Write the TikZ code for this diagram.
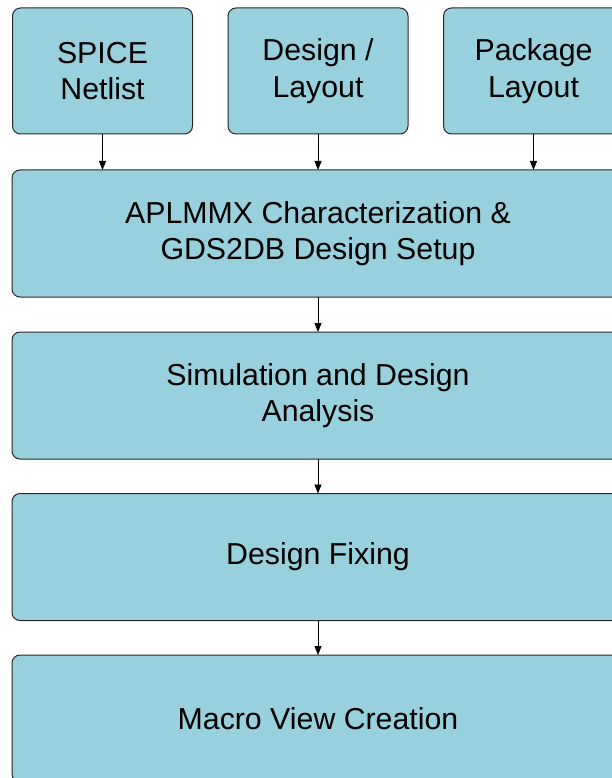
\documentclass[tikz,border=0pt]{standalone}
\usepackage{fontspec}
\setmainfont{Liberation Sans}
\usetikzlibrary{arrows.meta}
\definecolor{boxfill}{RGB}{153,208,221}
\definecolor{boxline}{RGB}{40,40,40}
\begin{document}
\begin{tikzpicture}[x=1pt,y=-1pt,
  box/.style={draw=boxline,fill=boxfill,line width=1pt,rounded corners=8pt,
    inner sep=0pt,outer sep=0pt,align=center,
    font=\fontsize{30.3}{36.5}\selectfont},
  small/.style={box,minimum width=180pt,minimum height=126pt},
  big/.style={box,minimum width=612pt,minimum height=127pt},
  conn/.style={line width=0.9pt,-{Triangle[length=9pt,width=7pt]}}]
\useasboundingbox (0,0) rectangle (611,778);
\node[small] (spice) at (102.5,71) {SPICE\\Netlist};
\node[small] (design) at (318,71) {Design /\\Layout};
\node[small] (pkg) at (533.5,71) {Package\\Layout};
\node[big] (aplmmx) at (318,233.5) {APLMMX Characterization \&\\GDS2DB Design Setup};
\node[big] (sim) at (318,395.5) {Simulation and Design\\Analysis};
\node[big] (fix) at (318,557) {Design Fixing};
\node[big] (macro) at (318,718.5) {Macro View Creation};
\draw[conn] (spice.south) -- (spice.south |- aplmmx.north);
\draw[conn] (design.south) -- (design.south |- aplmmx.north);
\draw[conn] (pkg.south) -- (pkg.south |- aplmmx.north);
\draw[conn] (aplmmx) -- (sim);
\draw[conn] (sim) -- (fix);
\draw[conn] (fix) -- (macro);
\end{tikzpicture}
\end{document}
